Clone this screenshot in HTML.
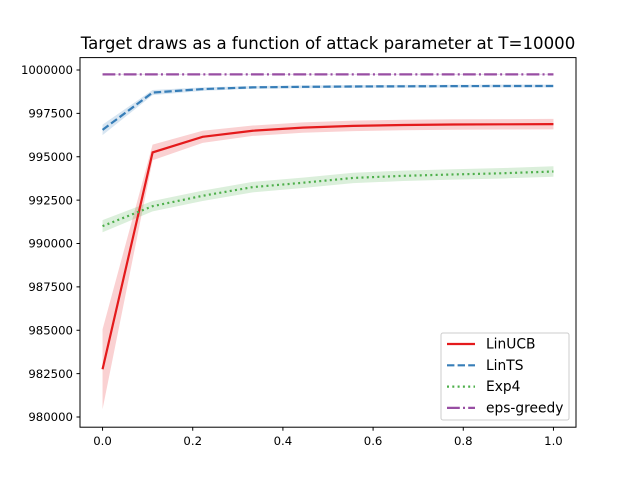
<!DOCTYPE html>
<html><head><meta charset="utf-8"><style>
body{margin:0;background:#fff}
svg{display:block;font-family:"DejaVu Sans","Liberation Sans",sans-serif}
</style></head><body>
<svg id="chart" width="640" height="480"></svg>
<script>
const xValues=[0,0.111,0.222,0.333,0.444,0.556,0.667,0.778,0.889,1.0];
const linucb=[982750,995250,996150,996500,996680,996780,996830,996860,996870,996880];
const lints=[996550,998700,998900,999000,999030,999050,999060,999070,999080,999080];
const exp4=[991000,992150,992750,993250,993500,993780,993900,993980,994050,994150];
const epsGreedy=[999750,999750,999750,999750,999750,999750,999750,999750,999750,999750];
const linucbErr=[2300,450,350,300,300,300,300,300,300,300];
const lintsErr=[300,150,100,80,80,80,80,80,80,80];
const exp4Err=[350,300,300,300,300,300,300,300,300,300];
const epsErr=[30,30,30,30,30,30,30,30,30,30];
const xTicks=[0,0.2,0.4,0.6,0.8,1.0];
const xTickLabels=["0.0","0.2","0.4","0.6","0.8","1.0"];
const yTicks=[980000,982500,985000,987500,990000,992500,995000,997500,1000000];
const seriesNames=["LinUCB","LinTS","Exp4","eps-greedy"];

const L=80,R=576,T=57.6,B=427.2;
const X0=-0.05,X1=1.05,Y0=979412,Y1=1000715;
const sx=v=>L+(v-X0)/(X1-X0)*(R-L);
const sy=v=>B-(v-Y0)/(Y1-Y0)*(B-T);
const NS="http://www.w3.org/2000/svg";
const svg=document.getElementById('chart');
function el(tag,attrs,parent){const e=document.createElementNS(NS,tag);for(const k in attrs)e.setAttribute(k,attrs[k]);(parent||svg).appendChild(e);return e;}

const series=[
 {name:"linucb",vals:linucb,err:linucbErr,color:"#e41a1c",dash:""},
 {name:"lints",vals:lints,err:lintsErr,color:"#377eb8",dash:"7.4,3.2"},
 {name:"exp4",vals:exp4,err:exp4Err,color:"#4daf4a",dash:"2,3.3"},
 {name:"eps-greedy",vals:epsGreedy,err:epsErr,color:"#984ea3",dash:"12.8,3.2,2,3.2"}
];
series.forEach(s=>{
  let up=xValues.map((x,i)=>sx(x)+","+sy(s.vals[i]+s.err[i]));
  let dn=xValues.map((x,i)=>sx(x)+","+sy(s.vals[i]-s.err[i])).reverse();
  const b=el('polygon',{points:up.concat(dn).join(" "),fill:s.color,'fill-opacity':0.2,stroke:'none'});
  
  
});
series.forEach(s=>{
  const p=el('polyline',{points:xValues.map((x,i)=>sx(x)+","+sy(s.vals[i])).join(" "),fill:'none',stroke:s.color,'stroke-width':2.2});
  if(s.dash)p.setAttribute('stroke-dasharray',s.dash);
  
  
});
const frame=el('rect',{x:L,y:T,width:R-L,height:B-T,fill:'none',stroke:'#000','stroke-width':1});


xTicks.forEach((v,i)=>{
  el('line',{x1:sx(v),x2:sx(v),y1:B,y2:B+3.5,stroke:'#000'});
  const t=el('text',{x:sx(v),y:B+18,'font-size':11.7,'text-anchor':'middle'});
  t.textContent=xTickLabels[i];
  
  
});
yTicks.forEach(v=>{
  el('line',{x1:L-3.5,x2:L,y1:sy(v),y2:sy(v),stroke:'#000'});
  const t=el('text',{x:L-7,y:sy(v)+4.2,'font-size':11.7,'text-anchor':'end'});
  t.textContent=String(v);
  
  
});
const title=el('text',{x:(L+R)/2,y:49,'font-size':16.6,'text-anchor':'middle'});
title.textContent="Target draws as a function of attack parameter at T=10000";


const lg=el('g',{});


el('rect',{x:441,y:333,width:128,height:87,rx:2,fill:'#fff','fill-opacity':0.8,stroke:'#ccc'},lg);
series.forEach((s,i)=>{
  const y=344+i*21.3;
  const ln=el('line',{x1:447,x2:475,y1:y,y2:y,stroke:s.color,'stroke-width':2.2},lg);
  if(s.dash)ln.setAttribute('stroke-dasharray',s.dash);
  const t=el('text',{x:486,y:y+4.5,'font-size':13.8},lg);
  t.textContent=seriesNames[i];
  
  
});
</script>
</body></html>
